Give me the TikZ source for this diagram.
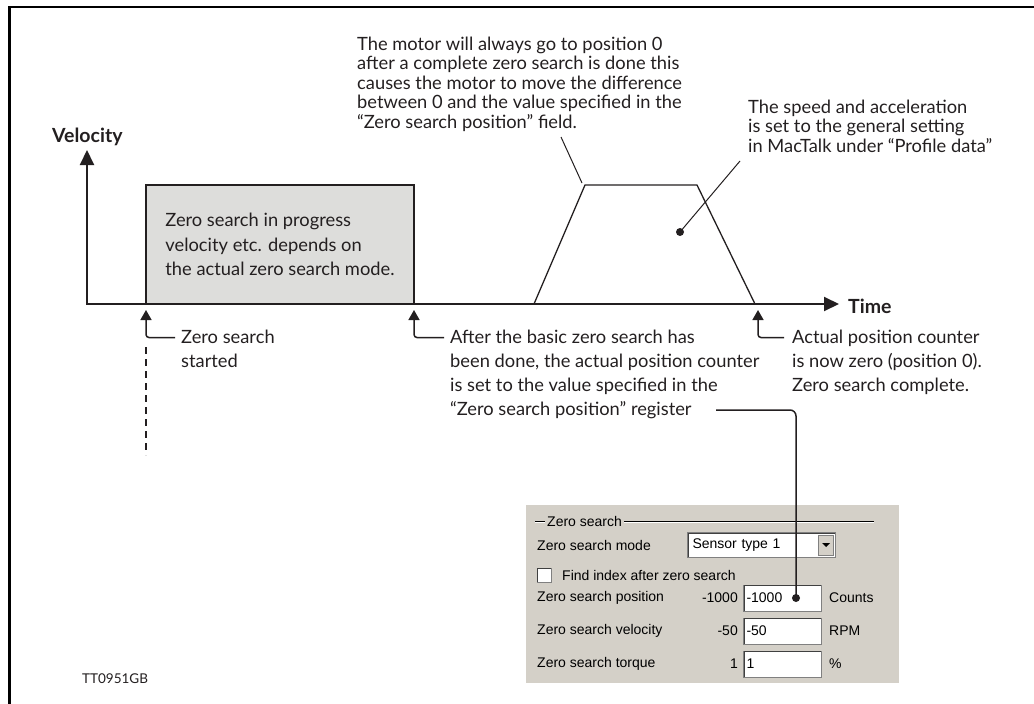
\documentclass[tikz,border=0pt]{standalone}
\usepackage{fontspec}
\setmainfont{Lato}
\newfontfamily\dlgfont{Liberation Sans}
\usetikzlibrary{arrows.meta,calc,positioning}
\definecolor{ink}{RGB}{35,31,32}
\definecolor{boxgray}{RGB}{221,221,219}
\definecolor{panel}{RGB}{212,208,200}
\definecolor{shade}{RGB}{128,128,128}
\definecolor{shadedark}{RGB}{64,64,64}
\tikzset{note/.style={anchor=north west, inner sep=0pt, align=left, text=ink, font=\fontsize{18.3}{19.5}\selectfont},
  lownote/.style={note, font=\fontsize{18.3}{24}\selectfont},
  axislabel/.style={anchor=base west, inner sep=0pt, text=ink, font=\fontsize{19.5}{20}\selectfont\bfseries},
  axis/.style={draw=ink, line width=2pt, line join=miter, {Triangle[length=15pt,width=14pt]}-{Triangle[length=15pt,width=14pt]}},
  profile/.style={draw=ink, line width=1.3pt, line join=miter},
  zsbox/.style={draw=ink, line width=1.3pt, fill=boxgray, minimum width=268pt, minimum height=119pt, align=left, inner sep=0pt, text=ink, font=\fontsize{18.3}{24.5}\selectfont},
  marker/.style={draw=ink, line width=1.5pt, rounded corners=3pt, -{Triangle[length=10pt,width=11pt]}},
  leader/.style={draw=ink, line width=1pt},
  dot/.style={circle, fill=ink, inner sep=0pt, minimum size=8pt},
  dlg/.style={inner sep=0pt, text=black, font=\dlgfont\fontsize{14}{16}\selectfont},
  editbox/.style={dlg, anchor=west, fill=white, draw=shade, line width=1pt, minimum width=78pt, minimum height=26pt, text width=72pt, inner xsep=3pt, align=left},
  x=1pt, y=-1pt}

\begin{document}
\begin{tikzpicture}
    \useasboundingbox (0,0) rectangle (1034,704);
    \draw[draw=black, line width=2.5pt] (1034,7) -- (9.5,7) -- (9.5,704);

    \coordinate (origin) at (87,304);
    \coordinate (vtop) at (87,150);
    \coordinate (ttip) at (839,304);
    \coordinate (tp1) at (534,304);
    \coordinate (tp2) at (585,185);
    \coordinate (tp3) at (697,185);
    \coordinate (tp4) at (755,304);
    \coordinate (zsstart) at (146,310);
    \coordinate (zsbasic) at (414,310);
    \coordinate (zsdone) at (758,310);

    \node[zsbox] (zsbox) at (280,244.5) {Zero search in progress\\velocity etc. depends on\\the actual zero search mode.};
    \draw[profile] (tp1) -- (tp2) -- (tp3) -- (tp4);
    \draw[axis] (vtop) -- (origin) -- (ttip);
    \node[axislabel] (vlabel) at (52,142) {Velocity};
    \node[axislabel] (tlabel) at (848,313) {Time};

    \node[note] (gozero) at (357,36.5) {The motor will always go to position 0\\after a complete zero search is done this\\causes the motor to move the difference\\between 0 and the value specified in the\\“Zero search position” field.};
    \coordinate (gozeroend) at (561,137);
    \coordinate (gozerotip) at (582,183);
    \draw[leader] (gozeroend) -- (gozerotip);

    \node[note] (speed) at (748,99.5) {The speed and acceleration\\is set to the general setting\\in MacTalk under “Profile data”};
    \node[dot] (accdot) at (680,232) {};
    \coordinate (speedend) at (740,161);
    \draw[leader] (accdot.center) -- (speedend);

    \node[lownote] (started) at (181,329.5) {Zero search\\started};
    \node[lownote] (basicdone) at (450,329.5) {After the basic zero search has\\been done, the actual position counter\\is set to the value specified in the\\“Zero search position” register};
    \node[lownote] (complete) at (792,329.5) {Actual position counter\\is now zero (position 0).\\Zero search complete.};
    \draw[marker] ([shift={(-6pt,-8pt)}]started.north west) -| (zsstart);
    \draw[marker] ([shift={(-6pt,-8pt)}]basicdone.north west) -| (zsbasic);
    \draw[marker] ([shift={(-8pt,-8pt)}]complete.north west) -| (zsdone);
    \draw[draw=ink, line width=1.5pt, dash pattern=on 7pt off 5pt] (146,347) -- (146,455);

    \node[anchor=west, inner sep=0pt, text=ink, font=\fontsize{13.5}{14}\selectfont] (ttcode) at (82,679) {TT0951GB};

    % dialog
    \fill[panel] (526,505) rectangle (899,683);
    \draw[shade, line width=1pt] (535,521) -- (874,521);
    \draw[white, line width=1pt] (535,522.2) -- (874,522.2);
    \node[dlg, anchor=west, fill=panel, inner xsep=2pt] (grptitle) at (545,521) {Zero search};
    \node[dlg, anchor=west] (modelbl) at (537,545) {Zero search mode};
    \node[editbox, minimum width=148pt, text width=138pt, inner xsep=5pt, minimum height=25pt] (combo) at (687,545) {Sensor type 1};
    \node[anchor=east, fill=panel, draw=shade, line width=1pt, minimum width=15pt, minimum height=20pt, inner sep=0pt] (ddbtn) at ([xshift=-2pt]combo.east) {};
    \fill[black] ($(ddbtn.center)+(-4,-2)$) -- ($(ddbtn.center)+(4,-2)$) -- ($(ddbtn.center)+(0,2)$) -- cycle;
    \node[fill=white, draw=shade, line width=1pt, minimum size=14pt, inner sep=0pt] (chk) at (544,575) {};
    \node[dlg, anchor=west] (chklbl) at (562,575) {Find index after zero search};

    \node[dlg, anchor=west] (poslbl) at (537,598) {Zero search position};
    \node[dlg, anchor=east] (posval) at (738,598) {-1000};
    \node[editbox] (posedit) at (743,598) {-1000};
    \node[dlg, anchor=west] (posunit) at (829,598) {Counts};

    \node[dlg, anchor=west] (vellbl) at (537,631) {Zero search velocity};
    \node[dlg, anchor=east] (velval) at (738,631) {-50};
    \node[editbox] (veledit) at (743,631) {-50};
    \node[dlg, anchor=west] (velunit) at (829,631) {RPM};

    \node[dlg, anchor=west] (trqlbl) at (537,664) {Zero search torque};
    \node[dlg, anchor=east] (trqval) at (738,664) {1};
    \node[editbox] (trqedit) at (743,664) {1};
    \node[dlg, anchor=west] (trqunit) at (829,664) {\%};

    \foreach \e in {combo,posedit,veledit,trqedit,chk}
      \draw[shadedark, line width=1pt] ([shift={(1pt,1pt)}]\e.south west) |- ([shift={(-1pt,-1pt)}]\e.north east);

    \node[dot] (posdot) at (796,598) {};
    \coordinate (regend) at (716,410);
    \draw[draw=ink, line width=1.5pt, rounded corners=6pt] (regend) -| (posdot.center);
\end{tikzpicture}
\end{document}
